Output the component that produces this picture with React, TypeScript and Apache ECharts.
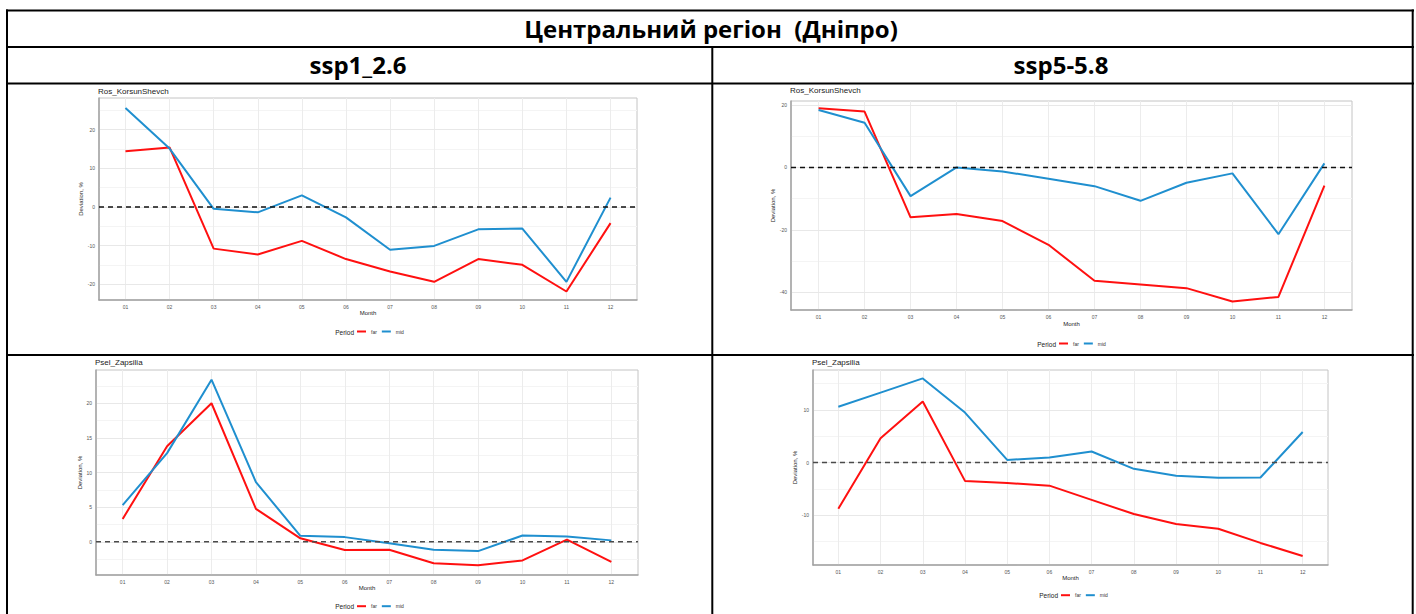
import React, { useEffect, useRef } from 'react';
import * as echarts from 'echarts';

// ---------- data ----------
const months = ['01', '02', '03', '04', '05', '06', '07', '08', '09', '10', '11', '12'];
const periodNames = ['far', 'mid'];
const headerTitle = 'Центральний регіон  (Дніпро)';
const scenarioNames = ['ssp1_2.6', 'ssp5-5.8'];
const stationNames = ['Ros_KorsunShevch', 'Ros_KorsunShevch', 'Psel_Zapsilia', 'Psel_Zapsilia'];

const rosSsp1Far = [14.4, 15.4, -10.8, -12.3, -8.8, -13.5, -16.7, -19.4, -13.5, -15.0, -21.9, -4.2];
const rosSsp1Mid = [25.6, 15.1, -0.5, -1.4, 3.0, -2.7, -11.1, -10.1, -5.8, -5.6, -19.4, 2.4];
const rosSsp5Far = [19.0, 17.9, -16.0, -14.9, -17.2, -24.8, -36.3, -37.5, -38.7, -43.0, -41.5, -5.8];
const rosSsp5Mid = [18.4, 14.3, -9.2, 0.0, -1.3, -3.6, -6.0, -10.7, -4.9, -1.9, -21.4, 1.3];
const pselSsp1Far = [3.3, 13.8, 20.0, 4.75, 0.5, -1.2, -1.15, -3.1, -3.4, -2.7, 0.3, -2.9];
const pselSsp1Mid = [5.3, 12.8, 23.4, 8.6, 0.86, 0.67, -0.2, -1.15, -1.35, 0.9, 0.77, 0.2];
const pselSsp5Far = [-8.8, 4.6, 11.6, -3.5, -3.9, -4.4, -7.1, -9.8, -11.7, -12.6, -15.3, -17.8];
const pselSsp5Mid = [10.6, 13.3, 16.0, 9.5, 0.5, 0.95, 2.1, -1.2, -2.5, -2.9, -2.85, 5.8];

const farSeries = [rosSsp1Far, rosSsp5Far, pselSsp1Far, pselSsp5Far];
const midSeries = [rosSsp1Mid, rosSsp5Mid, pselSsp1Mid, pselSsp5Mid];

// axis ranges and tick steps
const yRanges = [[-24.1, 28.2], [-45.7, 21.3], [-4.8, 24.8], [-19.5, 17.6]];
const majorSteps = [10, 20, 5, 10];
const minorSteps = [5, 10, 2.5, 5];
const zeroRef = 0;

// ---------- layout ----------
const layouts = [
  { left: 99, top: 98, width: 538, height: 202, titleTop: 87, monthGap: 9.5, devGap: 12.5, legendLeft: 357, legendY: 332, zeroColor: '#111' },
  { left: 791, top: 101, width: 561, height: 209, titleTop: 86.5, monthGap: 10.8, devGap: 14, legendLeft: 1059, legendY: 344, zeroColor: '#111' },
  { left: 96, top: 370, width: 542, height: 205, titleTop: 358.5, monthGap: 8.5, devGap: 11, legendLeft: 357, legendY: 606.7, zeroColor: '#4a4a4a' },
  { left: 813, top: 370, width: 515, height: 195, titleTop: 358.5, monthGap: 9, devGap: 12, legendLeft: 1061, legendY: 595.7, zeroColor: '#4a4a4a' },
];

const FONT = '"Liberation Sans", Arial, sans-serif';
const HFONT = '"Open Sans", sans-serif';
const RED = '#ff1010';
const BLUE = '#1f8fcf';

function buildOption() {
  const grid: any[] = [];
  const xAxis: any[] = [];
  const yAxis: any[] = [];
  const series: any[] = [];
  const title: any[] = [];
  const legend: any[] = [];
  const graphic: any[] = [];

  layouts.forEach((L, i) => {
    const band = L.width / 12.2;
    const [yMin, yMax] = yRanges[i];
    grid.push({
      left: L.left, top: L.top, width: L.width, height: L.height,
      show: true, borderColor: '#c4c4c4', borderWidth: 1, backgroundColor: 'transparent', containLabel: false,
    });
    grid.push({
      left: L.left + 0.6 * band, top: L.top, width: 11 * band, height: L.height, containLabel: false,
    });

    xAxis.push({
      gridIndex: 2 * i, type: 'value', min: 0, max: 1, z: 3,
      axisLine: { show: true, onZero: false, lineStyle: { color: '#a3a3a3', width: 1.5 } },
      axisLabel: { show: false }, axisTick: { show: false }, splitLine: { show: false },
    });
    xAxis.push({
      gridIndex: 2 * i + 1, type: 'value', min: 1, max: 12, interval: 1, z: 2,
      axisLine: { show: false }, axisTick: { show: false },
      axisLabel: {
        formatter: (v: number) => months[Math.round(v) - 1] || '',
        fontSize: 5, color: '#555', margin: 4, fontFamily: FONT,
      },
      splitLine: { show: true, lineStyle: { color: '#ececec', width: 1 } },
      name: 'Month', nameLocation: 'middle', nameGap: L.monthGap,
      nameTextStyle: { fontSize: 6, color: '#222', fontFamily: FONT },
    });

    yAxis.push({
      gridIndex: 2 * i, type: 'value', min: yMin, max: yMax,
      minInterval: majorSteps[i], maxInterval: majorSteps[i], z: 3,
      axisLine: { show: true, onZero: false, lineStyle: { color: '#a3a3a3', width: 1.5 } },
      axisTick: { show: false },
      axisLabel: { fontSize: 5, color: '#555', margin: 4, fontFamily: FONT, showMinLabel: false, showMaxLabel: false },
      splitLine: { show: true, showMinLine: false, showMaxLine: false, lineStyle: { color: '#e8e8e8', width: 1 } },
      name: 'Deviation, %', nameLocation: 'middle', nameGap: L.devGap,
      nameTextStyle: { fontSize: 6, color: '#222', fontFamily: FONT },
    });
    yAxis.push({
      gridIndex: 2 * i, type: 'value', min: yMin, max: yMax, position: 'left',
      minInterval: minorSteps[i], maxInterval: minorSteps[i], z: 1,
      axisLine: { show: false }, axisTick: { show: false }, axisLabel: { show: false },
      splitLine: { show: true, showMinLine: false, showMaxLine: false, lineStyle: { color: '#f4f4f4', width: 1 } },
    });
    yAxis.push({
      gridIndex: 2 * i + 1, type: 'value', min: yMin, max: yMax, show: false,
    });

    const ya = 3 * i;
    const yb = 3 * i + 2;
    series.push({
      name: periodNames[0], type: 'line', xAxisIndex: 2 * i + 1, yAxisIndex: yb,
      data: farSeries[i].map((v, k) => [k + 1, v]), symbol: 'none', showSymbol: false,
      lineStyle: { color: RED, width: 2 }, itemStyle: { color: RED }, z: 3,
    });
    series.push({
      name: periodNames[1], type: 'line', xAxisIndex: 2 * i + 1, yAxisIndex: yb,
      data: midSeries[i].map((v, k) => [k + 1, v]), symbol: 'none', showSymbol: false,
      lineStyle: { color: BLUE, width: 2 }, itemStyle: { color: BLUE }, z: 3,
    });
    series.push({
      name: 'zero', type: 'line', xAxisIndex: 2 * i, yAxisIndex: ya,
      data: [[0, zeroRef], [1, zeroRef]], symbol: 'none', showSymbol: false, silent: true,
      lineStyle: { color: L.zeroColor, width: 1.5, type: [5, 4] }, z: 4,
    });

    title.push({
      text: stationNames[i], left: L.left - 1, top: L.titleTop, padding: 0,
      textStyle: { fontSize: 8, fontWeight: 'normal', color: '#222', fontFamily: FONT },
    });

    legend.push({
      left: L.legendLeft, top: L.legendY - 3, padding: 0, orient: 'horizontal',
      data: periodNames, icon: 'rect', itemWidth: 9, itemHeight: 2, itemGap: 5,
      selectedMode: false,
      textStyle: { fontSize: 5, color: '#333', fontFamily: FONT },
    });

    graphic.push({
      type: 'text', x: L.legendLeft - 3, y: L.legendY,
      style: { text: 'Period', fontSize: 6.5, fontFamily: FONT, fill: '#222', align: 'right', verticalAlign: 'middle' },
    });
  });

  const rule = (x1: number, y1: number, x2: number, y2: number) => ({
    type: 'line', shape: { x1, y1, x2, y2 }, style: { stroke: '#000', lineWidth: 2 }, z: 10,
  });
  graphic.push(rule(6, 10.5, 1414, 10.5));
  graphic.push(rule(7, 9.5, 7, 614));
  graphic.push(rule(1412.7, 9.5, 1412.7, 614));
  graphic.push(rule(6, 47, 1414, 47));
  graphic.push(rule(6, 83.5, 1414, 83.5));
  graphic.push(rule(6, 355, 1414, 355));
  graphic.push(rule(712.3, 47, 712.3, 614));

  const header = (text: string, x: number, y: number) => ({
    type: 'text', x, y, z: 10,
    style: { text, fontSize: 24, fontWeight: 'bold', fontFamily: HFONT, fill: '#000', align: 'center', verticalAlign: 'middle' },
  });
  graphic.push(header(headerTitle, 711, 28.5));
  graphic.push(header(scenarioNames[0], 358, 64.5));
  graphic.push(header(scenarioNames[1], 1061, 64.5));

  return {
    animation: false,
    backgroundColor: '#ffffff',
    grid, xAxis, yAxis, series, title, legend, graphic,
  };
}

export default function App() {
  const ref = useRef<HTMLDivElement>(null);
  useEffect(() => {
    if (!ref.current) return;
    const chart = echarts.init(ref.current, undefined, { renderer: 'svg', width: 1416, height: 614 });
    chart.setOption(buildOption() as any);
    return () => chart.dispose();
  }, []);
  return (
    <div
      ref={ref}
      style={{ position: 'fixed', left: 0, top: 0, width: 1416, height: 614, background: '#fff' }}
    />
  );
}
